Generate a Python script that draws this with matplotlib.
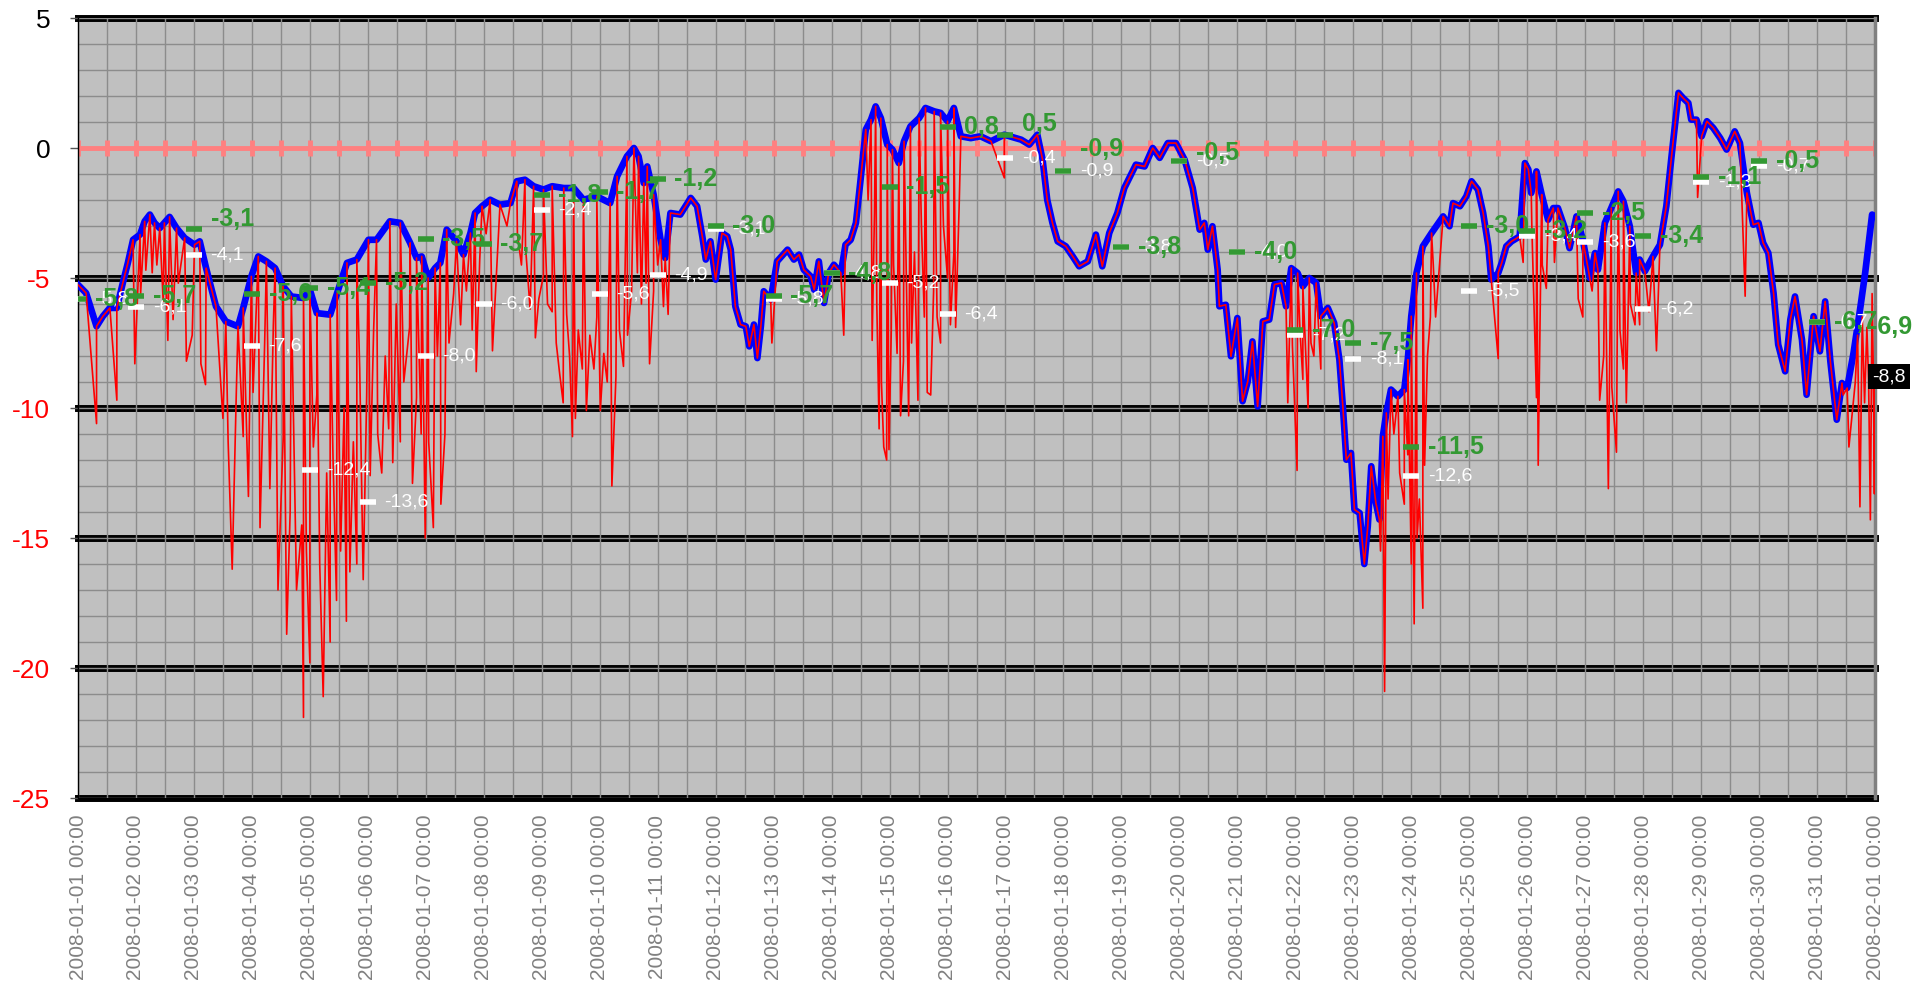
import numpy as np
import pandas as pd
import matplotlib
matplotlib.use('Agg')
import matplotlib.pyplot as plt
import matplotlib.dates as mdates
from matplotlib.ticker import MultipleLocator

plt.rcParams['font.family'] = ['Liberation Sans', 'DejaVu Sans']
plt.rcParams['axes.unicode_minus'] = False

start = pd.Timestamp('2008-01-01')

# smoothed (blue) series, days from 2008-01-01
blue_day = [0.00, 0.14, 0.32, 0.43, 0.55, 0.67, 0.78, 0.86, 0.95, 1.07, 1.15, 1.24, 1.32, 1.41, 1.49,
            1.58, 1.70, 1.84, 2.01, 2.10, 2.21, 2.38, 2.55, 2.76, 2.85, 2.99, 3.11, 3.25, 3.40, 3.54,
            3.68, 3.89, 4.00, 4.12, 4.35, 4.47, 4.64, 4.81, 5.01, 5.15, 5.38, 5.56, 5.73, 5.84, 5.93,
            6.04, 6.16, 6.25, 6.36, 6.53, 6.65, 6.77, 6.85, 6.97, 7.11, 7.28, 7.46, 7.57, 7.71, 7.86,
            8.03, 8.18, 8.38, 8.55, 8.72, 8.95, 9.18, 9.30, 9.47, 9.59, 9.67, 9.76, 9.82, 9.93, 10.05,
            10.13, 10.22, 10.39, 10.57, 10.68, 10.77, 10.83, 10.91, 11.00, 11.11, 11.20, 11.26, 11.34,
            11.43, 11.52, 11.58, 11.66, 11.72, 11.78, 11.83, 11.95, 12.06, 12.24, 12.35, 12.44, 12.52,
            12.64, 12.70, 12.78, 12.87, 12.95, 13.04, 13.16, 13.24, 13.33, 13.42, 13.50, 13.59, 13.68,
            13.76, 13.85, 13.96, 14.05, 14.16, 14.25, 14.36, 14.51, 14.62, 14.77, 14.88, 15.00, 15.11,
            15.23, 15.40, 15.57, 15.75, 15.98, 16.27, 16.41, 16.55, 16.64, 16.72, 16.81, 16.90, 17.04,
            17.16, 17.27, 17.42, 17.56, 17.67, 17.79, 17.93, 18.05, 18.25, 18.40, 18.54, 18.66, 18.80,
            18.94, 19.09, 19.23, 19.35, 19.43, 19.49, 19.57, 19.66, 19.69, 19.80, 19.89, 20.00, 20.09,
            20.18, 20.26, 20.35, 20.44, 20.55, 20.64, 20.76, 20.84, 20.93, 21.04, 21.13, 21.24, 21.36,
            21.44, 21.56, 21.67, 21.76, 21.82, 21.88, 21.96, 22.02, 22.11, 22.19, 22.25, 22.31, 22.39,
            22.45, 22.51, 22.57, 22.65, 22.77, 22.88, 22.94, 23.00, 23.09, 23.20, 23.35, 23.55, 23.66,
            23.72, 23.84, 23.95, 24.04, 24.15, 24.24, 24.33, 24.38, 24.50, 24.56, 24.64, 24.73, 24.87,
            24.96, 25.02, 25.07, 25.16, 25.25, 25.36, 25.45, 25.53, 25.65, 25.73, 25.85, 25.96, 26.08,
            26.17, 26.22, 26.34, 26.45, 26.57, 26.66, 26.77, 26.88, 26.94, 27.03, 27.17, 27.29, 27.40,
            27.49, 27.61, 27.69, 27.78, 27.83, 27.92, 28.01, 28.10, 28.21, 28.33, 28.44, 28.58, 28.67,
            28.79, 28.90, 28.99, 29.07, 29.16, 29.25, 29.33, 29.45, 29.54, 29.62, 29.74, 29.82, 29.94,
            30.05, 30.14, 30.23, 30.34, 30.43, 30.52, 30.63, 30.75, 30.83, 30.95, 31.00]
blue_val = [-5.26, -5.58, -6.86, -6.47, -6.15, -6.15, -5.13, -4.42, -3.53, -3.33, -2.82, -2.56, -2.88, -3.08, -2.88,
            -2.65, -3.08, -3.46, -3.72, -3.59, -4.62, -6.09, -6.67, -6.86, -6.15, -4.94, -4.17, -4.36, -4.62, -5.32,
            -5.71, -5.77, -5.45, -6.35, -6.41, -5.58, -4.42, -4.29, -3.53, -3.53, -2.82, -2.88, -3.65, -4.23, -4.17,
            -5.00, -4.62, -4.42, -3.14, -3.59, -4.10, -3.27, -2.50, -2.24, -1.99, -2.18, -2.12, -1.28, -1.22, -1.47,
            -1.60, -1.47, -1.54, -1.54, -1.99, -1.86, -2.12, -1.09, -0.32, 0.00, -0.32, -1.35, -0.71, -1.79, -3.53,
            -4.23, -2.50, -2.56, -1.92, -2.24, -3.40, -4.29, -3.59, -5.06, -3.27, -3.40, -3.91, -6.09,
            -6.79, -6.86, -7.63, -6.79, -8.08, -6.86, -5.51, -5.83, -4.36, -3.91, -4.29, -4.10, -4.68,
            -4.94, -5.45, -4.36, -5.96, -4.81, -4.49, -4.81, -3.72, -3.53, -2.88, -1.22, 0.71, 1.09,
            1.60, 1.15, 0.13, -0.06, -0.58, 0.26, 0.83, 1.15, 1.54, 1.41, 1.35, 1.03, 1.54,
            0.45, 0.38, 0.45, 0.26, 0.51, 0.32, 0.13, 0.51, -0.45, -1.99, -2.88, -3.59, -3.78,
            -4.17, -4.55, -4.36, -3.33, -4.55, -3.27, -2.50, -1.54, -0.64, -0.71, 0.00, -0.38, 0.19,
            0.19, -0.45, -1.54, -3.14, -2.88, -3.91, -3.01, -4.68, -6.09, -6.03, -8.01, -6.54, -9.74,
            -8.97, -7.44, -9.94, -6.67, -6.60, -5.25, -5.19, -6.09, -4.62, -4.81, -5.32, -5.00, -5.19,
            -6.47, -6.15, -6.73, -8.14, -9.94, -11.99, -11.73, -13.91, -14.04, -16.00, -14.55, -12.24, -13.65,
            -14.29, -11.09, -10.19, -9.29, -9.55, -9.29, -8.14, -6.47, -4.81, -3.78, -3.27, -2.63, -3.01,
            -2.12, -2.24, -1.86, -1.28, -1.60, -2.50, -3.78, -5.06, -4.81, -4.42, -3.78, -3.59, -3.40,
            -0.58, -0.83, -1.73, -0.90, -1.79, -2.76, -2.31, -2.31, -3.08, -3.85, -2.63, -3.53, -5.00,
            -4.04, -4.68, -2.88, -2.31, -1.67, -2.05, -3.01, -4.81, -4.29, -4.74, -4.17, -3.72, -2.24,
            -0.32, 2.12, 1.92, 1.73, 1.09, 1.09, 0.45, 1.03, 0.77, 0.38, -0.06, 0.64, 0.19,
            -1.73, -2.95, -2.88, -3.65, -4.04, -5.58, -7.56, -8.59, -6.60, -5.71, -7.37, -9.49, -6.47,
            -7.82, -5.90, -8.21, -10.45, -9.04, -9.23, -7.88, -6.09, -4.81, -2.56, -2.63]

# raw (red) series: follows the blue one, plus these drops
spike_day = [0.32, 0.67, 0.98, 1.08, 1.17, 1.28, 1.36, 1.47, 1.55, 1.64, 1.73, 1.87, 1.97, 2.12, 2.20,
             2.50, 2.59, 2.66, 2.73, 2.85, 2.94, 3.02, 3.14, 3.22, 3.31, 3.37, 3.45, 3.54, 3.60, 3.66,
             3.72, 3.77, 3.86, 3.89, 3.94, 4.00, 4.06, 4.12, 4.17, 4.23, 4.29, 4.35, 4.40, 4.46, 4.53,
             4.59, 4.63, 4.69, 4.75, 4.81, 4.86, 4.92, 4.98, 5.04, 5.10, 5.17, 5.24, 5.30, 5.36, 5.43,
             5.49, 5.56, 5.62, 5.72, 5.77, 5.84, 5.92, 5.99, 6.05, 6.13, 6.20, 6.26, 6.33, 6.40, 6.48,
             6.60, 6.70, 6.80, 6.87, 6.93, 7.04, 7.15, 7.25, 7.40, 7.58, 7.65, 7.72, 7.80, 7.89, 7.95,
             8.03, 8.10, 8.18, 8.25, 8.31, 8.37, 8.43, 8.48, 8.53, 8.58, 8.63, 8.70, 8.77, 8.83, 8.90,
             8.95, 9.01, 9.07, 9.13, 9.21, 9.28, 9.34, 9.41, 9.48, 9.55, 9.65, 9.72, 9.80, 9.86, 9.93,
             10.00, 10.10, 10.18, 11.97, 13.21, 13.63, 13.70, 13.74, 13.78, 13.82, 13.86, 13.90, 13.95,
             13.99, 14.03, 14.07, 14.13, 14.19, 14.24, 14.33, 14.38, 14.43, 14.49, 14.55, 14.60, 14.65,
             14.71, 14.76, 14.82, 14.88, 14.93, 15.00, 15.05, 15.11, 15.14, 15.20, 15.98, 20.87, 20.95,
             21.03, 21.08, 21.13, 21.22, 21.27, 21.32, 21.44, 22.47, 22.54, 22.60, 22.70, 22.80, 22.88,
             22.94, 23.00, 23.05, 23.10, 23.14, 23.20, 23.23, 23.28, 23.33, 23.38, 23.42, 24.50, 24.93,
             25.08, 25.16, 25.19, 25.26, 25.33, 25.47, 25.88, 25.96, 26.12, 26.25, 26.32, 26.40, 26.46,
             26.54, 26.60, 26.66, 26.71, 26.78, 26.86, 26.94, 27.10, 27.23, 27.94, 28.76, 30.45, 30.55]
spike_val = [-10.6, -9.7, -8.3, -5.6, -4.7, -4.8, -4.5, -5.9, -7.4, -6.6, -5.2, -8.2, -7.2, -8.3, -9.1,
             -10.4, -11.3, -16.2, -9.5, -11.1, -13.4, -9.4, -14.6, -7.5, -13.1, -6.8, -17.0, -11.1, -18.7, -14.0,
             -10.8, -17.0, -14.5, -21.9, -15.5, -19.8, -11.5, -9.5, -16.0, -21.1, -12.5, -19.0, -12.0, -17.4, -15.5,
             -10.0, -18.2, -16.3, -11.3, -16.0, -8.5, -16.6, -9.5, -12.6, -7.0, -11.0, -12.5, -8.0, -10.8, -12.1,
             -6.0, -11.3, -9.0, -6.9, -12.9, -9.6, -11.0, -15.0, -11.3, -14.6, -8.0, -13.7, -11.0, -7.5, -5.6,
             -6.8, -5.5, -7.0, -8.6, -4.3, -3.3, -7.8, -3.5, -3.0, -3.3, -4.5, -3.8, -6.2, -7.3, -5.8,
             -4.9, -6.0, -6.3, -7.5, -8.7, -9.8, -6.4, -8.0, -11.1, -10.4, -7.0, -8.5, -10.1, -7.2, -8.5,
             -6.5, -10.1, -7.9, -9.0, -13.0, -8.8, -7.0, -8.4, -7.2, -5.5, -4.8, -6.0, -5.2, -8.3, -5.5,
             -4.5, -6.1, -6.4, -7.5, -7.2, -2.0, -7.4, -2.5, -6.0, -10.8, -9.0, -11.5, -12.0,
             -11.6, -7.0, -4.5, -7.9, -10.3, -8.2, -10.3, -7.5, -4.0, -9.7, -3.0, -6.5, -9.4,
             -9.5, -5.5, -6.5, -7.5, -3.0, -5.0, -6.8, -4.0, -6.9, -2.3, -1.15, -9.8, -7.6,
             -12.4, -7.0, -8.9, -10.0, -7.5, -8.0, -8.5, -15.5, -20.9, -13.5, -11.0, -12.5, -13.7,
             -11.8, -16.0, -18.3, -15.0, -13.5, -17.7, -12.2, -8.0, -6.5, -4.5, -6.5, -8.1, -4.4,
             -3.0, -9.6, -12.2, -4.5, -5.4, -4.4, -5.8, -6.5, -5.5, -9.7, -8.0, -13.1, -9.2,
             -11.7, -7.0, -8.5, -9.8, -6.0, -6.8, -6.8, -6.3, -7.8, -1.9, -5.7, -9.5, -11.5]
# red leaves the blue curve at the very end
red_split = 30.62
tail_day = [30.66, 30.70, 30.74, 30.78, 30.82, 30.86, 30.89, 30.92, 30.95, 30.97, 30.99, 31.00]
tail_val = [-9.0, -7.2, -13.8, -6.5, -9.8, -6.9, -9.0, -14.3, -5.6, -8.5, -13.3, -8.8]
last_val = -8.8

# daily values shown at each midnight
green_val = [-5.8, -5.7, -3.1, -5.6, -5.4, -5.2, -3.5, -3.7, -1.8, -1.7, -1.2, -3.0, -5.7, -4.8, -1.5, 0.8,
             0.5, -0.9, -3.8, -0.5, -4.0, -7.0, -7.5, -11.5, -3.0, -3.2, -2.5, -3.4, -1.1, -0.5, -6.7, -6.9]
white_val = [-5.8, -6.1, -4.1, -7.6, -12.4, -13.6, -8.0, -6.0, -2.4, -5.6, -4.9, -3.1, -5.8, -4.8, -5.2, -6.4,
             -0.4, -0.9, -3.8, -0.5, -4.0, -7.2, -8.1, -12.6, -5.5, -3.4, -3.6, -6.2, -1.3, -0.7, -6.7, np.nan]


def to_dates(days):
    return start + pd.to_timedelta(np.asarray(days, dtype=float), unit='D')


def fmt(v):
    return ('%.1f' % v).replace('.', ',')


pts = [(d, v) for d, v in zip(blue_day, blue_val) if d < red_split]
pts += list(zip(spike_day, spike_val)) + list(zip(tail_day, tail_val))
pts.sort()
red_day = [p[0] for p in pts]
red_val = [p[1] for p in pts]

fig = plt.figure(figsize=(19.21, 9.84), dpi=100)
ax = fig.add_axes([78 / 1921, 1 - 798 / 984, (1875 - 78) / 1921, (798 - 18) / 984])
ax.set_facecolor('#C0C0C0')
ax.set_axisbelow('line')

for y in [5, -5, -10, -15, -20, -25]:
    ax.axhline(y, color='black', lw=5, zorder=1, clip_on=False)

zero_t = pd.date_range(start, periods=63, freq='12h')
ax.plot(zero_t, np.zeros(len(zero_t)), color='#FF8080', lw=3.5, marker='|', ms=12, mew=3.5, zorder=2)

ax.plot(to_dates(blue_day), blue_val, color='#0000FF', lw=4.8, zorder=3, solid_joinstyle='round')
ax.plot(to_dates(red_day), red_val, color='#FF0000', lw=1.2, zorder=4)

days = to_dates(np.arange(len(green_val)))
ax.plot(days, white_val, ls='none', marker='_', ms=11, mew=4, color='white', zorder=5, clip_on=False)
ax.plot(days[:-1], green_val[:-1], ls='none', marker='_', ms=11, mew=4, color='#339933', zorder=6)

green_dy = {2: 7, 16: 8, 17: 16, 19: 6}
for i, (g, w) in enumerate(zip(green_val, white_val)):
    if not np.isnan(w):
        ax.annotate(fmt(w), (days[i], w), xytext=(12, 0), textcoords='offset points',
                    color='white', fontsize=14, ha='left', va='center', zorder=7,
                    annotation_clip=False)
    dx = -4 if i == len(green_val) - 1 else 12
    ax.annotate(fmt(g), (days[i], g), xytext=(dx, green_dy.get(i, 0)), textcoords='offset points',
                color='#339933', fontsize=18, fontweight='bold', ha='left', va='center', zorder=8,
                annotation_clip=False)

ax.annotate(fmt(last_val), (days[-1], last_val), xytext=(-2, 0), textcoords='offset points',
            color='white', fontsize=14, ha='left', va='center', zorder=9, annotation_clip=False,
            bbox=dict(boxstyle='square,pad=0.2', fc='black', ec='none'))

ax.set_xlim(to_dates([0, 31]))
ax.set_ylim(-25, 5)
ax.xaxis.set_major_locator(mdates.DayLocator())
ax.xaxis.set_minor_locator(mdates.HourLocator(byhour=[12]))
ax.xaxis.set_major_formatter(mdates.DateFormatter('%Y-%m-%d %H:%M'))
ax.yaxis.set_major_locator(MultipleLocator(5))
ax.yaxis.set_minor_locator(MultipleLocator(1))
ax.grid(which='both', color='#8C8C8C', lw=1)

ax.tick_params(axis='x', which='both', length=0, labelsize=15, labelcolor='#808080',
               labelrotation=90, pad=12)
ax.tick_params(axis='y', which='major', length=6, width=1, color='#555555', labelsize=19, pad=14)
ax.tick_params(axis='y', which='minor', length=0)
for lab in ax.get_xticklabels():
    lab.set_verticalalignment('top')
for val, lab in zip(ax.get_yticks(), ax.get_yticklabels()):
    lab.set_color('black' if val >= 0 else 'red')

ax.spines['top'].set_visible(False)
ax.spines['bottom'].set_visible(False)
ax.spines['right'].set_color('#808080')
ax.spines['right'].set_linewidth(2.5)
ax.spines['left'].set_color('black')
ax.spines['left'].set_linewidth(1)

fig.savefig('out.png', dpi=100, facecolor='white')
